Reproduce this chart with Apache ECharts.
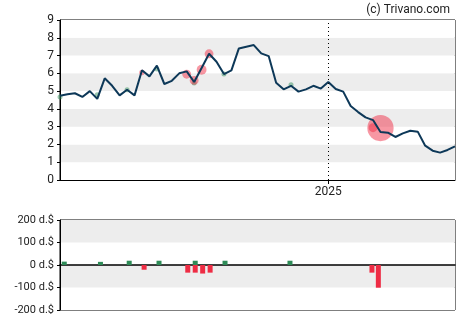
<!DOCTYPE html>
<html>
<head>
<meta charset="utf-8">
<script src="https://cdn.jsdelivr.net/npm/echarts@6/dist/echarts.min.js"></script>
<style>
  html, body { margin: 0; padding: 0; background: #fff; }
  #chart { width: 470px; height: 325px; }
</style>
</head>
<body>
<div id="chart"></div>
<script>
// Weekly closing prices, one value per week starting 2024-04-24
const startDate = '2024-04-24';
const prices = [
  4.74, 4.82, 4.88, 4.67, 5.00, 4.56, 5.72, 5.30, 4.76, 5.08,
  4.76, 6.17, 5.83, 6.43, 5.40, 5.58, 6.00, 6.11, 5.51, 6.30,
  7.10, 6.65, 5.96, 6.17, 7.40, 7.50, 7.59, 7.12, 6.97, 5.47,
  5.10, 5.30, 4.97, 5.10, 5.30, 5.14, 5.51, 5.12, 4.97, 4.16,
  3.82, 3.52, 3.37, 2.70, 2.66, 2.42, 2.62, 2.77, 2.72, 1.93,
  1.65, 1.54, 1.69, 1.89
];

// Insider trades: week index of the price marker, trade date, price, amount (d.$)
const tradeWeeks  = [0, 5, 9, 11, 13, 17, 18, 18, 19, 20, 22, 31, 42, 43];
const tradeDates  = ['2024-04-28', '2024-06-01', '2024-06-28', '2024-07-12', '2024-07-26',
                     '2024-08-22', '2024-08-29', '2024-08-29', '2024-09-05', '2024-09-12',
                     '2024-09-26', '2024-11-26', '2025-02-11', '2025-02-17'];
const tradePrices = [4.67, 4.80, 5.08, 6.05, 6.25, 5.95, 5.45, 5.60, 6.20, 7.10, 5.96, 5.36, 2.94, 2.92];
const tradeAmounts = [15, 14, 19, -21, 19, -34, 19, -34, -38, -34, 19, 19, -34, -101];

const priceTicks = [0, 1, 2, 3, 4, 5, 6, 7, 8, 9];
const amountTicks = [-200, -100, 0, 100, 200];
const yearMark = '2025-01-01';

const DAY = 86400000;
const t0 = Date.parse(startDate + 'T00:00:00Z');
const weekTime = i => t0 + i * 7 * DAY;
const dateTime = s => Date.parse(s + 'T00:00:00Z');

const priceData = prices.map((p, i) => [weekTime(i), p]);
const buyMarkers = [], sellMarkers = [], buyBars = [], sellBars = [];
tradeAmounts.forEach((a, k) => {
  const m = [weekTime(tradeWeeks[k]), tradePrices[k], a];
  const b = [dateTime(tradeDates[k]), a];
  if (a >= 0) { buyMarkers.push(m); buyBars.push(b); }
  else { sellMarkers.push(m); sellBars.push(b); }
});

const xMin = weekTime(0);
const xMax = weekTime(prices.length - 1);
const yearTime = dateTime(yearMark);
const font = 'Roboto, "Liberation Sans", Arial, sans-serif';
const textColor = '#222';
// marker diameter grows with the traded amount
const markerSize = d => Math.max(5, Math.abs(d[2]) * 0.26);

const chart = echarts.init(document.getElementById('chart'), null, { renderer: 'canvas' });
chart.setOption({
  animation: false,
  backgroundColor: '#fff',
  textStyle: { fontFamily: font },
  title: {
    text: '(c) Trivano.com',
    right: 15, top: -1,
    textStyle: { fontSize: 12, fontWeight: 'normal', color: textColor, fontFamily: font }
  },
  grid: [
    { left: 60, right: 15, top: 20, height: 160, show: true, borderColor: '#000', borderWidth: 1, backgroundColor: 'transparent' },
    { left: 60, right: 15, top: 220, height: 90, show: true, borderColor: '#000', borderWidth: 1, backgroundColor: 'transparent' }
  ],
  xAxis: [
    {
      type: 'value', gridIndex: 0, min: xMin, max: xMax, scale: true,
      axisLine: { show: true, lineStyle: { color: '#000', width: 1 } },
      axisTick: { show: true, length: 4, lineStyle: { color: '#000' }, customValues: [yearTime] },
      axisLabel: {
        show: true, customValues: [yearTime],
        formatter: v => String(new Date(v).getUTCFullYear()),
        color: textColor, fontSize: 12, margin: 6, fontFamily: font
      },
      splitLine: { show: false }
    },
    {
      type: 'value', gridIndex: 1, min: xMin, max: xMax, scale: true,
      axisLine: { show: true, onZero: true, lineStyle: { color: '#000', width: 1.5 } },
      axisTick: { show: false },
      axisLabel: { show: false },
      splitLine: { show: false }
    }
  ],
  yAxis: [
    {
      type: 'value', gridIndex: 0, min: priceTicks[0], max: priceTicks[priceTicks.length - 1], interval: 1,
      axisLine: { show: true, lineStyle: { color: '#000' } },
      axisTick: { show: true, length: 3, lineStyle: { color: '#000' } },
      axisLabel: { color: textColor, fontSize: 12, margin: 6, fontFamily: font },
      splitLine: { show: false },
      splitArea: { show: true, areaStyle: { color: ['#ffffff', '#ededed'] } }
    },
    {
      type: 'value', gridIndex: 1, min: amountTicks[0], max: amountTicks[amountTicks.length - 1], interval: 100,
      axisLine: { show: true, lineStyle: { color: '#000' } },
      axisTick: { show: true, length: 3, lineStyle: { color: '#000' } },
      axisLabel: { color: textColor, fontSize: 11, margin: 6, fontFamily: font, formatter: v => v + ' d.$' },
      splitLine: { show: false },
      splitArea: { show: true, areaStyle: { color: ['#ffffff', '#ededed'] } }
    }
  ],
  series: [
    {
      name: 'Buys', type: 'scatter', xAxisIndex: 0, yAxisIndex: 0,
      data: buyMarkers, symbolSize: markerSize,
      itemStyle: { color: 'rgba(46,139,87,0.6)' }, z: 2
    },
    {
      name: 'Sells', type: 'scatter', xAxisIndex: 0, yAxisIndex: 0,
      data: sellMarkers, symbolSize: markerSize,
      itemStyle: { color: 'rgba(238,44,68,0.62)' }, z: 2
    },
    {
      name: 'Price', type: 'line', xAxisIndex: 0, yAxisIndex: 0,
      data: priceData, showSymbol: false, symbol: 'none',
      lineStyle: { color: '#0d3858', width: 2 }, z: 3,
      markLine: {
        silent: true, symbol: 'none', label: { show: false },
        lineStyle: { color: '#000', type: [1, 3], width: 1 },
        data: [{ xAxis: yearTime }]
      }
    },
    {
      name: 'Buy amount', type: 'bar', xAxisIndex: 1, yAxisIndex: 1,
      data: buyBars, barWidth: 5, barGap: '-100%',
      itemStyle: { color: '#2e8b57' }
    },
    {
      name: 'Sell amount', type: 'bar', xAxisIndex: 1, yAxisIndex: 1,
      data: sellBars, barWidth: 5, barGap: '-100%',
      itemStyle: { color: '#ee2c44' }
    }
  ]
});
</script>
</body>
</html>
